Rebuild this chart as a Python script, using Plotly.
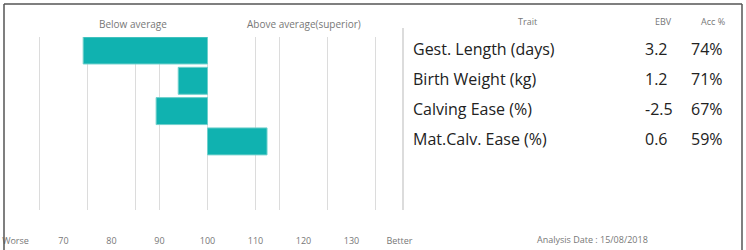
import plotly.graph_objects as go

# ---- data ----
traits = ["Gest. Length (days)", "Birth Weight (kg)", "Calving Ease (%)", "Mat.Calv. Ease (%)"]
ebv_text = ["3.2", "1.2", "-2.5", "0.6"]
acc_text = ["74%", "71%", "67%", "59%"]
index_values = [74.1, 93.9, 89.3, 112.4]   # bar end on the index scale (100 = breed average)
baseline = 100
tick_vals = [60, 70, 80, 90, 100, 110, 120, 130, 140]
tick_text = ["Worse", "70", "80", "90", "100", "110", "120", "130", "Better"]
grid_vals = [65, 75, 85, 90, 100, 110, 115, 125, 135]

W, H = 746, 250
FONT = "Open Sans"
TEAL = "#10b2b0"

fig = go.Figure()
fig.add_trace(go.Bar(
    y=traits,
    x=[v - baseline for v in index_values],
    base=baseline,
    orientation="h",
    width=0.89,
    marker=dict(color=TEAL, line=dict(color="#6fd0cc", width=1)),
    hoverinfo="skip",
))

# pixel helpers for layout only
def px(x):
    return x / W

def py(y):
    return 1 - y / H

plot_top, plot_bot = 37, 210
row0, row_step = 50.5, 30.3
plot_h = plot_bot - plot_top
y_top = -(row0 - plot_top) / row_step
y_bot = y_top + plot_h / row_step

x_center_px, px_per_unit = 207.5, 4.8
x_min = baseline - x_center_px / px_per_unit
x_max = baseline + (W - x_center_px) / px_per_unit

annotations = []
# column headers
for txt, xc in [("Trait", 527), ("EBV", 663), ("Acc %", 713)]:
    annotations.append(dict(text=txt, x=px(xc), y=py(22), xref="paper", yref="paper",
                            showarrow=False, xanchor="center", yanchor="middle",
                            font=dict(family=FONT, size=9, color="#777")))
# direction labels
for txt, xc in [("Below average", 133), ("Above average(superior)", 304)]:
    annotations.append(dict(text=txt, x=px(xc), y=py(24), xref="paper", yref="paper",
                            showarrow=False, xanchor="center", yanchor="middle",
                            font=dict(family=FONT, size=10, color="#777")))
# table rows
for t, e, a in zip(traits, ebv_text, acc_text):
    annotations.append(dict(text=t, x=px(411), y=t, xref="paper", yref="y",
                            showarrow=False, xanchor="left", yanchor="middle", yshift=2,
                            font=dict(family=FONT, size=16, color="#222")))
    annotations.append(dict(text=e, x=px(643), y=t, xref="paper", yref="y",
                            showarrow=False, xanchor="left", yanchor="middle", yshift=2,
                            font=dict(family=FONT, size=16, color="#222")))
    annotations.append(dict(text=a, x=px(689), y=t, xref="paper", yref="y",
                            showarrow=False, xanchor="left", yanchor="middle", yshift=2,
                            font=dict(family=FONT, size=16, color="#222")))
# analysis date
annotations.append(dict(text="Analysis Date : 15/08/2018", x=px(592), y=py(239),
                        xref="paper", yref="paper", showarrow=False,
                        xanchor="center", yanchor="middle",
                        font=dict(family=FONT, size=9, color="#777")))

shapes = [
    # frame
    dict(type="line", xref="paper", yref="paper", x0=px(4), x1=px(4), y0=-0.1, y1=py(4),
         line=dict(color="#555", width=1.5)),
    dict(type="line", xref="paper", yref="paper", x0=px(4), x1=px(742), y0=py(4), y1=py(4),
         line=dict(color="#555", width=1.5)),
    dict(type="line", xref="paper", yref="paper", x0=px(742), x1=px(742), y0=-0.1, y1=py(4),
         line=dict(color="#555", width=1.5)),
    # table separator
    dict(type="line", xref="paper", yref="paper", x0=px(403), x1=px(403), y0=py(210), y1=py(28),
         line=dict(color="#d0d0d0", width=1.5)),
]

fig.update_layout(
    width=W, height=H,
    margin=dict(l=0, r=0, t=0, b=0),
    paper_bgcolor="white", plot_bgcolor="white",
    showlegend=False,
    bargap=0.1,
    annotations=annotations,
    shapes=shapes,
    xaxis=dict(
        range=[x_min, x_max], domain=[0, 1],
        tickmode="array", tickvals=tick_vals, ticktext=tick_text,
        showgrid=False, zeroline=False, showline=False, ticks="",
        ticklabelstandoff=24,
        tickfont=dict(family=FONT, size=9, color="#777"),
        minor=dict(tickvals=grid_vals, showgrid=True, gridcolor="#dcdcdc", gridwidth=1.2, ticks=""),
    ),
    yaxis=dict(
        domain=[py(plot_bot), py(plot_top)],
        range=[y_bot, y_top],
        categoryorder="array", categoryarray=traits,
        showticklabels=False, showgrid=False, zeroline=False, showline=False, ticks="",
    ),
)

fig.write_html(
    "out.html",
    config={"displayModeBar": False},
    post_script="document.body.style.margin='0';document.body.style.overflow='hidden';",
)
